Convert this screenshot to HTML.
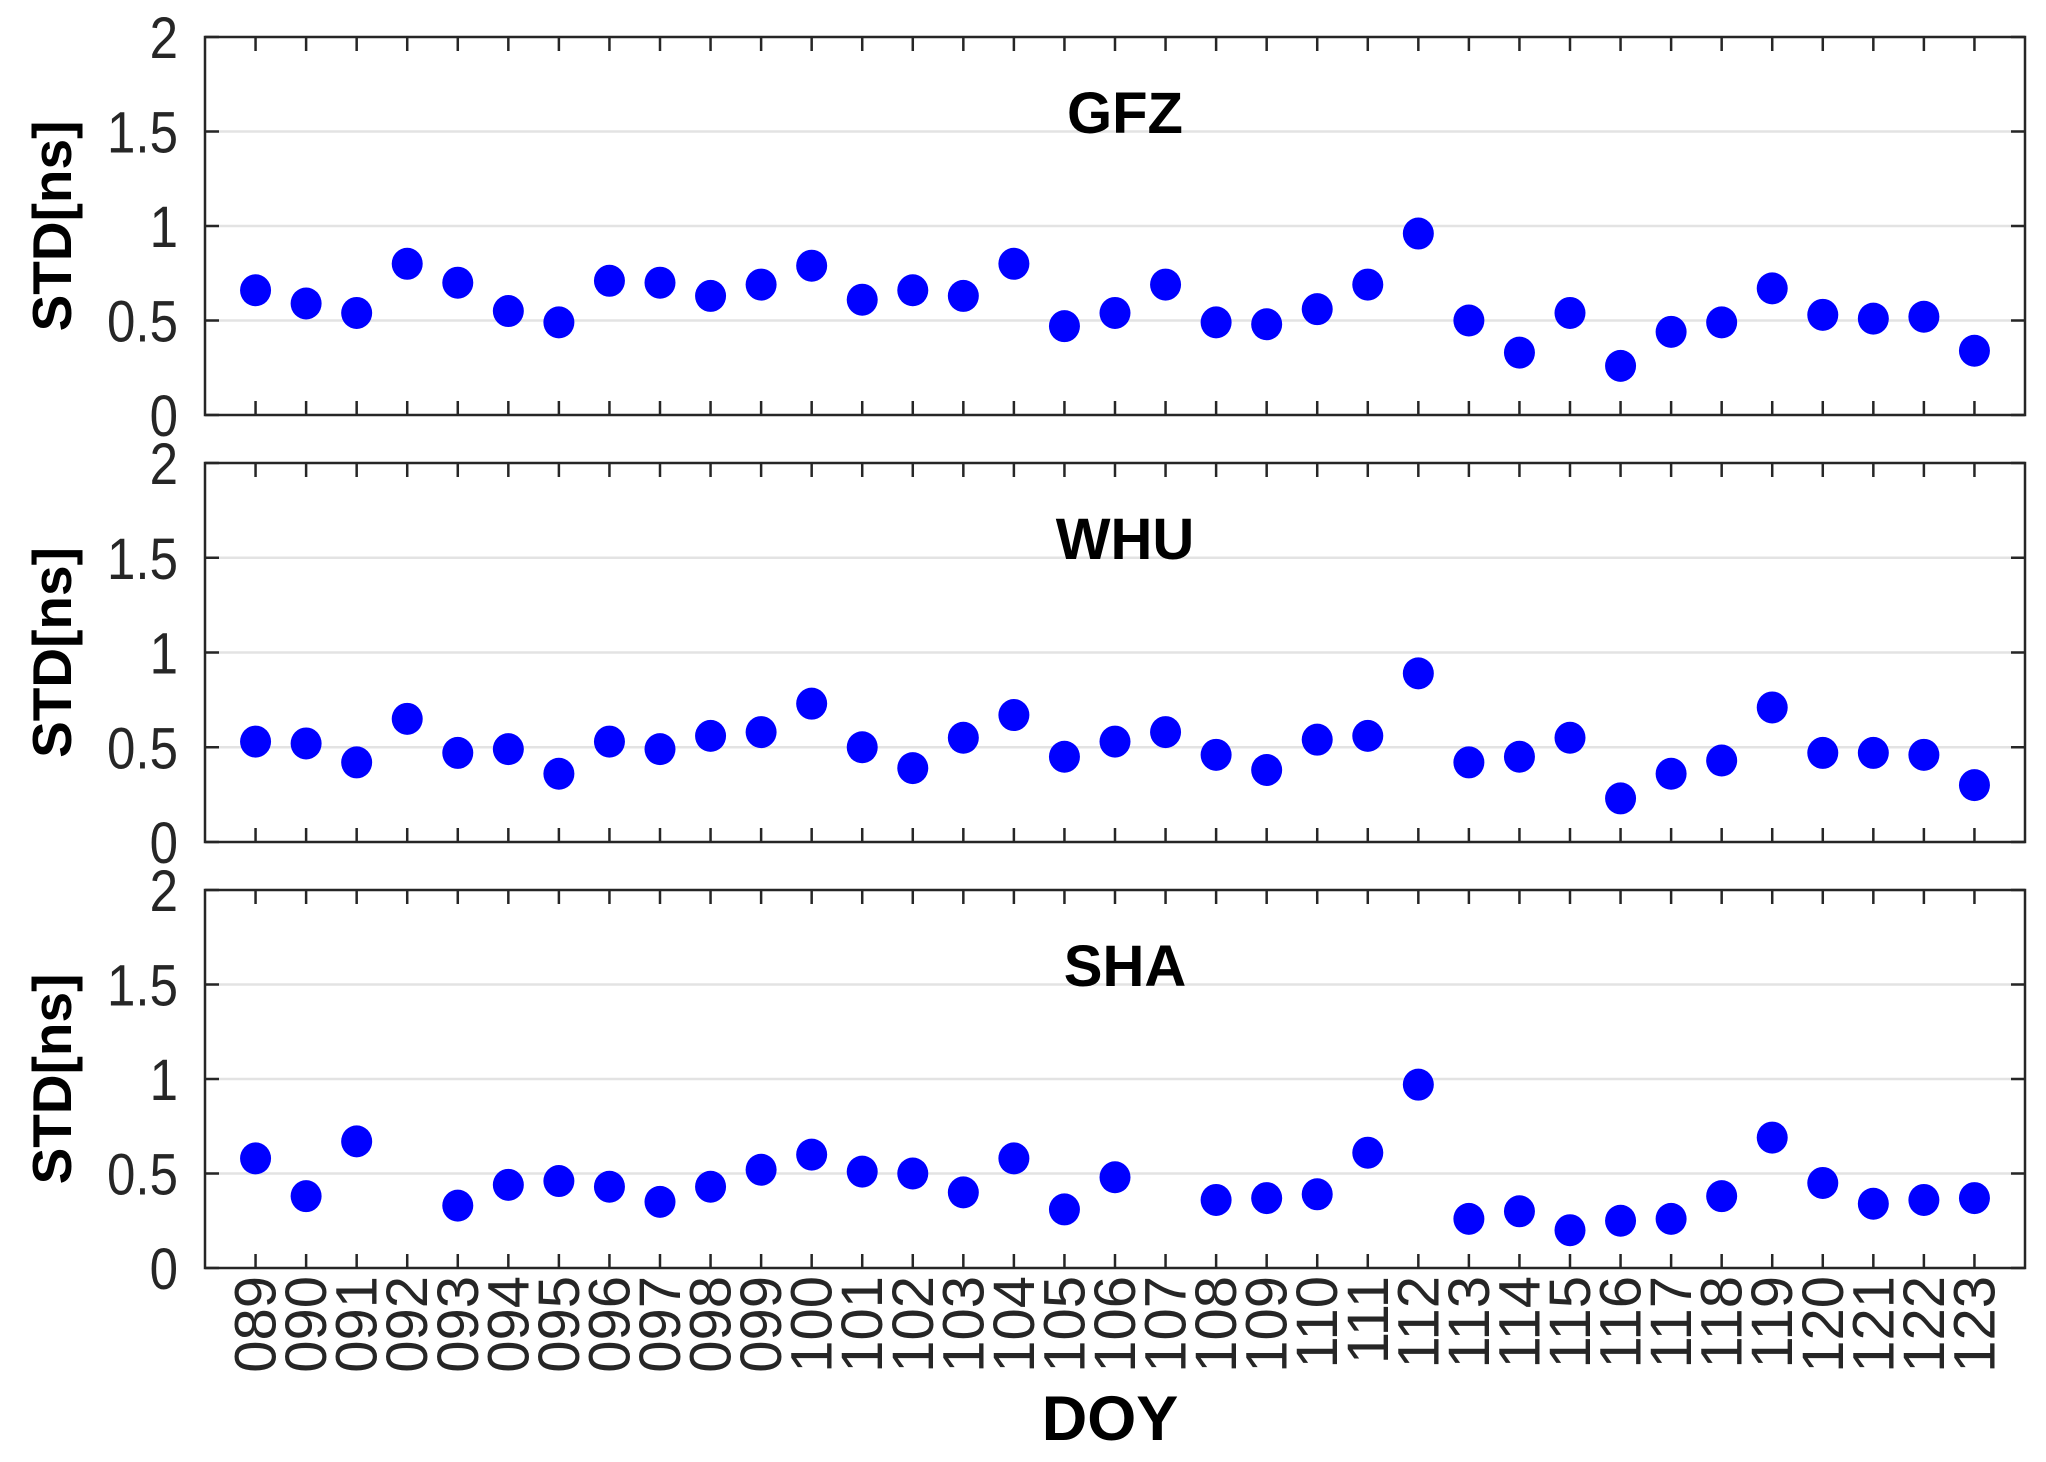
<!DOCTYPE html>
<html><head><meta charset="utf-8"><style>
html,body{margin:0;padding:0;background:#fff;}
svg{display:block;}
text{font-family:"Liberation Sans",Arial,sans-serif;}
</style></head><body>
<svg id="chart" width="2046" height="1462" viewBox="0 0 2046 1462" xmlns="http://www.w3.org/2000/svg"></svg>
<script>
const doys = ["089","090","091","092","093","094","095","096","097","098","099","100","101","102","103","104","105","106","107","108","109","110","111","112","113","114","115","116","117","118","119","120","121","122","123"];
const gfzValues = [0.66,0.59,0.54,0.80,0.70,0.55,0.49,0.71,0.70,0.63,0.69,0.79,0.61,0.66,0.63,0.80,0.47,0.54,0.69,0.49,0.48,0.56,0.69,0.96,0.50,0.33,0.54,0.26,0.44,0.49,0.67,0.53,0.51,0.52,0.34];
const whuValues = [0.53,0.52,0.42,0.65,0.47,0.49,0.36,0.53,0.49,0.56,0.58,0.73,0.50,0.39,0.55,0.67,0.45,0.53,0.58,0.46,0.38,0.54,0.56,0.89,0.42,0.45,0.55,0.23,0.36,0.43,0.71,0.47,0.47,0.46,0.30];
const shaValues = [0.58,0.38,0.67,null,0.33,0.44,0.46,0.43,0.35,0.43,0.52,0.60,0.51,0.50,0.40,0.58,0.31,0.48,null,0.36,0.37,0.39,0.61,0.97,0.26,0.30,0.20,0.25,0.26,0.38,0.69,0.45,0.34,0.36,0.37];
const yTicks = [0,0.5,1,1.5,2];
const yTickLabels = ["0","0.5","1","1.5","2"];
const panelNames = ["GFZ","WHU","SHA"];

const svg = document.getElementById('chart');
const NS = 'http://www.w3.org/2000/svg';
function mk(tag, attrs, parent){const e=document.createElementNS(NS,tag);for(const k in attrs)e.setAttribute(k,attrs[k]);(parent||svg).appendChild(e);return e;}

const L=205, R=2025;
const panels=[{top:37,bot:415},{top:463,bot:842},{top:890,bot:1268}];
const series=[gfzValues,whuValues,shaValues];
const xMin=88, xMax=124;
function xs(i){return L+(i+89-xMin)/(xMax-xMin)*(R-L);}

panels.forEach((p,pi)=>{
  const g=mk('g',{});
  
  
  const ys=v=>p.bot-v/2*(p.bot-p.top);
  yTicks.forEach((t,ti)=>{
    if(t>0&&t<2){
      const gl=mk('line',{x1:L,x2:R,y1:ys(t),y2:ys(t),stroke:'#e3e3e3','stroke-width':2.5},g);
      
      
    }
    mk('line',{x1:L,x2:L+14,y1:ys(t),y2:ys(t),stroke:'#262626','stroke-width':2.5},g);
    mk('line',{x1:R-14,x2:R,y1:ys(t),y2:ys(t),stroke:'#262626','stroke-width':2.5},g);
    const tl=mk('text',{x:0,y:0,transform:`translate(178,${ys(t)+21}) scale(0.88,1)`,'text-anchor':'end','font-size':58,fill:'#262626'},g);
    tl.textContent=yTickLabels[ti];
    
    
  });
  doys.forEach((d,i)=>{
    const x=xs(i);
    mk('line',{x1:x,x2:x,y1:p.top,y2:p.top+14,stroke:'#262626','stroke-width':2.5},g);
    mk('line',{x1:x,x2:x,y1:p.bot-14,y2:p.bot,stroke:'#262626','stroke-width':2.5},g);
  });
  const fr=mk('rect',{x:L,y:p.top,width:R-L,height:p.bot-p.top,fill:'none',stroke:'#262626','stroke-width':2.5},g);
  
  
  const tt=mk('text',{x:1125,y:p.top+96,'text-anchor':'middle','font-size':58,'font-weight':'bold',fill:'#000'},g);
  tt.textContent=panelNames[pi];
  
  
  const cy=(p.top+p.bot)/2;
  const yt=mk('text',{x:0,y:0,transform:`translate(71,${cy}) rotate(-90)`,'text-anchor':'middle','font-size':55,'font-weight':'bold',fill:'#000'},g);
  yt.textContent='STD[ns]';
  
  
  series[pi].forEach((v,i)=>{
    if(v===null)return;
    const c=mk('ellipse',{cx:xs(i),cy:ys(v),rx:15.5,ry:16,fill:'#0000ff'},g);
    
    
  });
});
doys.forEach((d,i)=>{
  const t=mk('text',{x:0,y:0,transform:`translate(${xs(i)+20},1276) rotate(-90)`,'text-anchor':'end','font-size':58,fill:'#262626'});
  t.textContent=d;
  
  
});
const xt=mk('text',{x:1110,y:1440,'text-anchor':'middle','font-size':63,'font-weight':'bold',fill:'#000'});
xt.textContent='DOY';


</script>
</body></html>
